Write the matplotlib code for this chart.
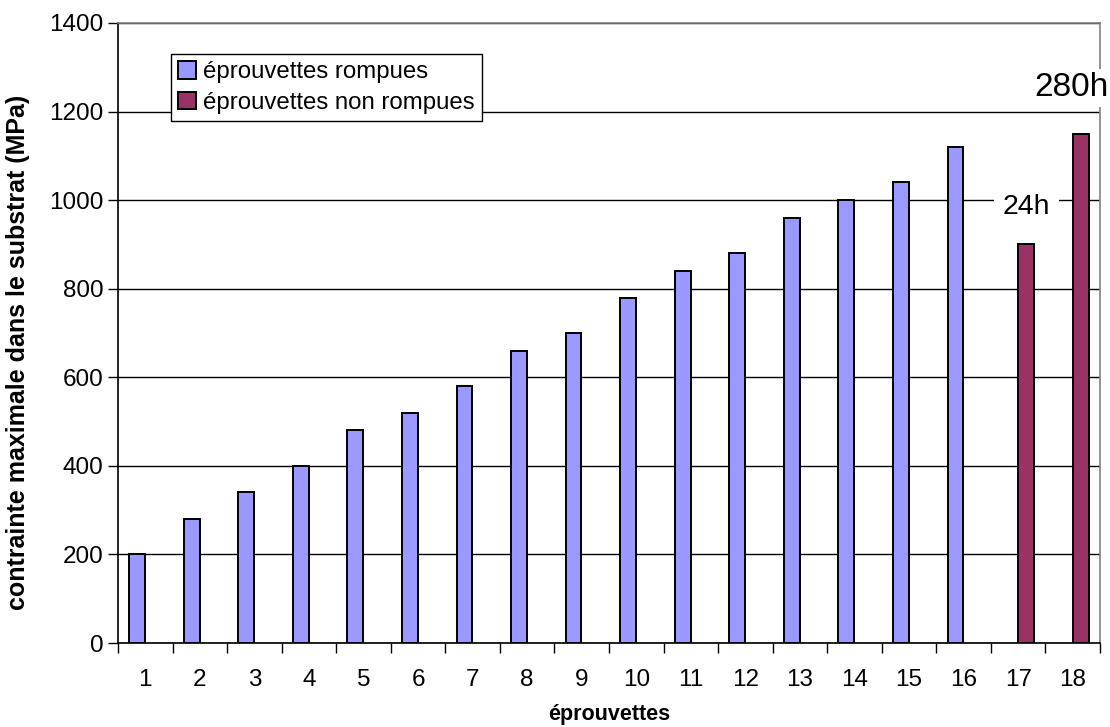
import numpy as np
import matplotlib.pyplot as plt

plt.rcParams['font.family'] = ['Liberation Sans', 'DejaVu Sans']

# données
eprouvettes = [str(i) for i in range(1, 19)]
rompues = [200, 280, 340, 400, 480, 520, 580, 660, 700, 780, 840, 880,
           960, 1000, 1040, 1120, 0, 0]
non_rompues = [0] * 16 + [900, 1150]
etiquettes = {17: "24h", 18: "280h"}

col_rompues = "#9999FF"
col_non_rompues = "#993366"

fig = plt.figure(figsize=(11.1, 7.27), dpi=100)
ax = fig.add_axes([0.1063, 0.1155, 0.8847, 0.8529])

x = np.arange(1, len(eprouvettes) + 1)
w = 0.29
m_r = np.array(rompues) > 0
m_n = np.array(non_rompues) > 0
ax.bar(x[m_r] - 0.15, np.array(rompues)[m_r], width=w, color=col_rompues,
       edgecolor="black", linewidth=1.4, label="éprouvettes rompues", zorder=3)
ax.bar(x[m_n] + 0.15, np.array(non_rompues)[m_n], width=w, color=col_non_rompues,
       edgecolor="black", linewidth=1.4, label="éprouvettes non rompues", zorder=3)

# étiquettes de durée au-dessus des éprouvettes non rompues
decal = {17: (0, 27), 18: (-7, 33)}
taille = {17: 20.5, 18: 24}
marge = {17: 0.3, 18: 0.1}
for k, txt in etiquettes.items():
    ax.annotate(txt, xy=(k + 0.15, non_rompues[k - 1]), xytext=decal[k],
                textcoords="offset points", ha="center", va="center", fontsize=taille[k],
                bbox=dict(boxstyle=f"square,pad={marge[k]}", facecolor="white", edgecolor="none"),
                zorder=5, annotation_clip=False)

ax.set_xlim(0.5, 18.5)
ax.set_ylim(0, 1400)
ax.set_yticks(range(0, 1401, 200))
ax.yaxis.grid(True, color="black", linewidth=1.0)
ax.set_axisbelow(True)

# graduations aux limites des catégories, libellés au centre
ax.set_xticks(np.arange(0.5, 19, 1))
ax.set_xticklabels([])
ax.set_xticks(x, minor=True)
ax.set_xticklabels(eprouvettes, minor=True)
ax.tick_params(axis="x", which="major", length=7, direction="out", width=1)
ax.tick_params(axis="x", which="minor", length=0, pad=19, labelsize=17.5)
ax.tick_params(axis="y", length=7, direction="out", width=1, labelsize=17.5)

for s in ["top", "right"]:
    ax.spines[s].set_color("#808080")
    ax.spines[s].set_linewidth(1.2)
ax.spines["left"].set_linewidth(1.2)
ax.spines["bottom"].set_linewidth(1.2)

ax.set_xlabel("éprouvettes", fontsize=15.5, fontweight="bold", labelpad=9)
ax.set_ylabel("contrainte maximale dans le substrat (MPa)", fontsize=18,
              fontweight="bold")
ax.yaxis.set_label_coords(-0.0896, 0.468)

leg = ax.legend(loc="upper left", bbox_to_anchor=(0.054, 0.95), fontsize=17.3,
                frameon=True, fancybox=False, framealpha=1, edgecolor="black",
                handlelength=0.75, handleheight=0.75, handletextpad=0.3,
                borderpad=0.3, labelspacing=0.35, borderaxespad=0)
leg.get_frame().set_linewidth(1.0)
leg.set_zorder(6)

fig.savefig("out.png", dpi=100)
